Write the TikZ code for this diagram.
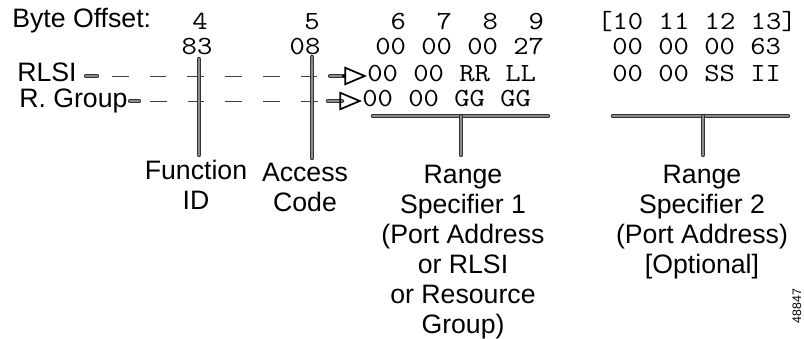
\documentclass[tikz,border=0pt]{standalone}
\usepackage{fontspec}
\setmainfont{Liberation Sans}
\usetikzlibrary{arrows.meta}
\newcommand{\lblsize}{\fontsize{20}{22.5}\selectfont}
\newcommand{\hexsize}{\ttfamily\fontsize{19.6}{22}\selectfont}

\begin{document}
\begin{tikzpicture}[x=0.75pt, y=-0.75pt]
  \tikzset{lbl/.style = {font=\lblsize, inner sep=0pt}}
  \tikzset{hex/.style = {font=\hexsize, inner sep=0pt, xscale=1.14}}
  \tikzset{note/.style = {font=\lblsize, inner sep=0pt, align=center, anchor=north}}
  \tikzset{bar/.style = {draw=black!80, line width=0.8pt, double=black!45, double distance=1.7pt, line cap=round}}
  \tikzset{dashln/.style = {draw=black!75, line width=0.6pt, dash pattern=on 12.5pt off 15.8pt}}
  \tikzset{tri/.style = {line width=1.3pt, -{Triangle[open, length=17pt, width=14pt]}}}
  \useasboundingbox (0,0) rectangle (804,339);
%  \draw [gray, very thin, step=20] (0,0) grid (804,339);

  \node[name = offs, lbl, anchor=base west] at (12,27) {Byte Offset:};
  \node[name = b4, hex, anchor=base] at (200,29) {4};
  \node[name = b5, hex, anchor=base] at (312,29) {5};
  \node[name = b69, hex, anchor=base west] at (375,29) {~6~~7~~8~~9};
  \node[name = b1013, hex, anchor=base west] at (597,29) {[10~11~12~13]};

  \node[name = fid, hex, anchor=base] at (197,54) {83};
  \node[name = acc, hex, anchor=base] at (305,54) {08};
  \node[name = rs1, hex, anchor=base west] at (375,54) {00~00~00~27};
  \node[name = rs2, hex, anchor=base west] at (612,54) {00~00~00~63};

  \node[name = rlsi, lbl, anchor=base west] at (17,81) {RLSI};
  \node[name = rlsiD, hex, anchor=base west] at (367,81) {00~00~RR~LL};
  \node[name = rlsiS, hex, anchor=base west] at (612,81) {00~00~SS~II};

  \node[name = grp, lbl, anchor=base west] at (19,107) {R. Group};
  \node[name = grpD, hex, anchor=base west] at (362,106) {00~00~GG~GG};

  % RLSI row
  \draw[bar] (86,76) -- (97,76);
  \draw[dashln] (112,76) -- (318,76);
  \draw[bar] (330,76) -- (344,76);
  \draw[tri] (342,76) -- (rlsiD.west |- 0,76);

  % R. Group row
  \draw[bar] (130,101) -- (139,101);
  \draw[dashln] (150,101) -- (318,101);
  \draw[bar] (328,101) -- (342,101);
  \draw[tri] (340,101) -- (grpD.west |- 0,101);

  \draw[bar] (199,59) -- (199,155);
  \draw[bar] (312,57) -- (312,158);
  \draw[bar] (373,116) -- (548,116);
  \draw[bar] (461,116) -- (461,155);
  \draw[bar] (613,116) -- (788,116);
  \draw[bar] (703,116) -- (703,155);

  \node[name = fn, note] at (196,160) {Function\\ID};
  \node[name = ac, note] at (305,163) {Access\\Code};
  \node[name = r1, note] at (463,165) {Range\\Specifier 1\\(Port Address\\or RLSI\\or Resource\\Group)};
  \node[name = r2, note] at (702,165) {Range\\Specifier 2\\(Port Address)\\{[Optional]}};

  \node[name = fig, font=\fontsize{9.2}{10}\selectfont, rotate=90, inner sep=0pt] at (797,306) {48847};
\end{tikzpicture}
\end{document}
